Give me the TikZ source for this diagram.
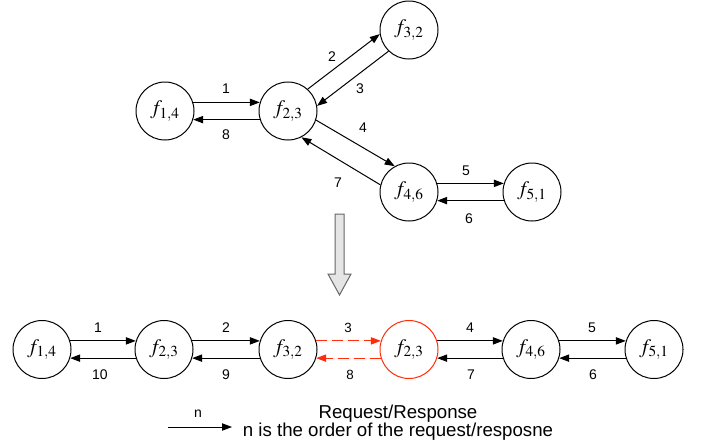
\documentclass[tikz,border=0pt]{standalone}
\usepackage{mathptmx}
\usepackage{fontspec}
\setmainfont{Liberation Sans}
\usetikzlibrary{arrows.meta}

\tikzset{every picture/.style={line width=0.75pt}}
\definecolor{reqred}{RGB}{255,45,10}
\tikzset{
  fnode/.style={circle,draw,minimum size=43.5pt,inner sep=0pt,font=\fontsize{15.5}{18}\selectfont},
  reqarrow/.style={-{Triangle[length=7.5pt,width=5.5pt]}},
  redarrow/.style={-{Triangle[length=7.5pt,width=5.5pt]},draw=reqred,fill=reqred,dash pattern=on 8pt off 4pt},
  numlbl/.style={inner sep=0.75pt,font=\fontsize{10.5}{12}\selectfont},
  redlbl/.style={inner sep=0.75pt,font=\fontsize{10}{12}\selectfont}
}

\begin{document}
\begin{tikzpicture}[x=0.75pt,y=0.75pt,yscale=-1,xscale=1]
\useasboundingbox (0,0) rectangle (702,447);

% Top graph nodes
\node [fnode] (t14) at (165,111) {$f_{1,4}$};
\node [fnode] (t23) at (288,111) {$f_{2,3}$};
\node [fnode] (t32) at (409,30) {$f_{3,2}$};
\node [fnode] (t46) at (409,192) {$f_{4,6}$};
\node [fnode] (t51) at (532,192) {$f_{5,1}$};

% Top graph arrows
\draw [reqarrow] (t14.17) -- (t23.163) ;
\draw [reqarrow] (t23.197) -- (t14.343) ;
\draw [reqarrow] (t23.48) -- (t32.188) ;
\draw [reqarrow] (t32.226) -- (t23.10) ;
\draw [reqarrow] (t23.342) -- (t46.119) ;
\draw [reqarrow] (t46.166) -- (t23.297) ;
\draw [reqarrow] (t46.17) -- (t51.163) ;
\draw [reqarrow] (t51.197) -- (t46.343) ;

% Text Node
\node [numlbl] (tl1) at (226,89) {1};
\node [numlbl] (tl8) at (226,135) {8};
\node [numlbl] (tl2) at (332,57) {2};
\node [numlbl] (tl3) at (360,89) {3};
\node [numlbl] (tl4) at (363,128) {4};
\node [numlbl] (tl7) at (338,183) {7};
\node [numlbl] (tl5) at (466,171) {5};
\node [numlbl] (tl6) at (469,219) {6};

% Block arrow
\draw [color=gray!80!black,fill=gray!20] (335,214) -- (344,214) -- (344,274) -- (351,274) -- (339.5,295) -- (328,274) -- (335,274) -- cycle ;

% Bottom chain nodes
\node [fnode] (b14) at (42,349.5) {$f_{1,4}$};
\node [fnode] (b23) at (164,349.5) {$f_{2,3}$};
\node [fnode] (b32) at (288,349.5) {$f_{3,2}$};
\node [fnode,draw=reqred] (b23r) at (409,349.5) {$f_{2,3}$};
\node [fnode] (b46) at (531,349.5) {$f_{4,6}$};
\node [fnode] (b51) at (654,349.5) {$f_{5,1}$};

% Bottom chain arrows
\draw [reqarrow] (b14.17) -- (b23.163) ;
\draw [reqarrow] (b23.197) -- (b14.343) ;
\draw [reqarrow] (b23.17) -- (b32.163) ;
\draw [reqarrow] (b32.197) -- (b23.343) ;
\draw [redarrow] (b32.17) -- (b23r.163) ;
\draw [redarrow] (b23r.197) -- (b32.343) ;
\draw [reqarrow] (b23r.17) -- (b46.163) ;
\draw [reqarrow] (b46.197) -- (b23r.343) ;
\draw [reqarrow] (b46.17) -- (b51.163) ;
\draw [reqarrow] (b51.197) -- (b46.343) ;

% Text Node
\node [numlbl] (bl1) at (98,328) {1};
\node [numlbl] (bl10) at (100,375) {10};
\node [numlbl] (bl2) at (226,328) {2};
\node [numlbl] (bl9) at (226,375) {9};
\node [redlbl] (bl3) at (348,328) {3};
\node [redlbl] (bl8) at (350,375) {8};
\node [numlbl] (bl4) at (470,328) {4};
\node [numlbl] (bl7) at (471,375) {7};
\node [numlbl] (bl5) at (592,328) {5};
\node [numlbl] (bl6) at (593,375) {6};

% Legend
\coordinate (lgs) at (168,427);
\coordinate (lge) at (232,427);
\draw [reqarrow] (lgs) -- (lge) ;
\node [numlbl] (lgn) at (198,414) {n};
\node [inner sep=0.75pt,align=center,font=\fontsize{14}{14}\selectfont] (lgtext) at (398,422.5) {Request/Response\\n is the order of the request/resposne};

\end{tikzpicture}
\end{document}
